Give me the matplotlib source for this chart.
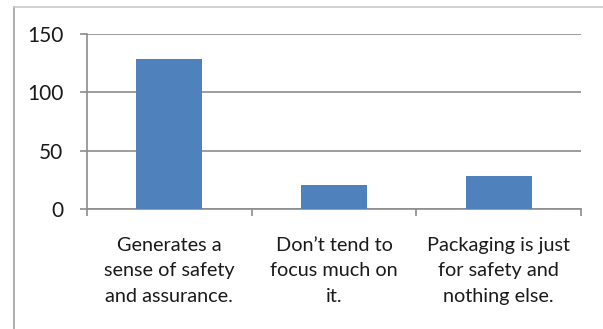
import matplotlib.pyplot as plt
from matplotlib.lines import Line2D

categories = ["Generates a\nsense of safety\nand assurance.",
              "Don\u2019t tend to\nfocus much on\nit.",
              "Packaging is just\nfor safety and\nnothing else."]
counts = [129, 21, 28]
yticks = [0, 50, 100, 150]

plt.rcParams['font.family'] = ['Lato', 'DejaVu Sans']

fig = plt.figure(figsize=(6.03, 3.29), dpi=100)
ax = fig.add_axes([87 / 603, 120 / 329, 494 / 603, 175 / 329])

x = list(range(len(categories)))
ax.bar(x, counts, width=0.4, color='#4f81bd', zorder=3)

ax.set_xlim(-0.5, len(categories) - 0.5)
ax.set_ylim(0, 150)
ax.set_yticks(yticks)
ax.yaxis.grid(True, color='#8c8c8c', linewidth=1.2, zorder=0)

ax.set_xticks(x)
ax.set_xticklabels(categories, fontsize=14.3, linespacing=1.6, color='#1a1a1a')
ax.set_xticks([i - 0.5 for i in range(len(categories) + 1)], minor=True)
ax.tick_params(axis='x', which='major', length=0, pad=20)
ax.tick_params(axis='x', which='minor', length=5, width=1.2, color='#8c8c8c')
ax.tick_params(axis='y', length=5, width=1.2, color='#8c8c8c', labelsize=15,
               labelcolor='#1a1a1a', pad=12)

for side in ('top', 'right'):
    ax.spines[side].set_visible(False)
for side in ('left', 'bottom'):
    ax.spines[side].set_color('#8c8c8c')
    ax.spines[side].set_linewidth(1.2)

# chart-area border: left and top edges only
fig.add_artist(Line2D([14 / 603, 14 / 603], [0, 1 - 7 / 329], color='#a0a0a0', linewidth=1.2))
fig.add_artist(Line2D([14 / 603, 1], [1 - 7 / 329, 1 - 7 / 329], color='#c8c8c8', linewidth=1.2))

fig.savefig('out.png', dpi=100)
